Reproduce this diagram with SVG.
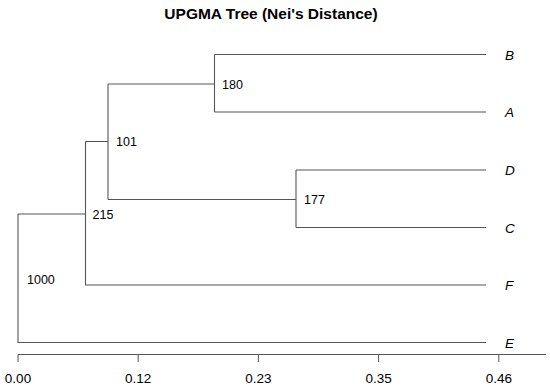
<svg xmlns="http://www.w3.org/2000/svg" width="550" height="389" viewBox="0 0 550 389">
<style>
text{font-family:"Liberation Sans",Arial,sans-serif;fill:#000}
.title{font-size:15.5px;font-weight:bold;text-anchor:middle}
.boot{font-size:12.5px}
.leaf{font-size:13.5px;font-style:italic}
.tick{font-size:13.5px;text-anchor:middle}
.br{fill:none;stroke:#555;stroke-width:1.1}
.ax{fill:none;stroke:#555;stroke-width:1}
</style>
<rect width="550" height="389" fill="#fff"/>
<text class="title" x="271" y="18.5">UPGMA Tree (Nei's Distance)</text>
<g id="connectors">
<path class="br" d="M18,214V342.5H486"/>
<path class="br" d="M18,214H85.5"/>
<path class="br" d="M85.5,141.5V285H486"/>
<path class="br" d="M85.5,141.5H108"/>
<path class="br" d="M108,84V199.5"/>
<path class="br" d="M108,84H214.5"/>
<path class="br" d="M214.5,54.5V112"/>
<path class="br" d="M214.5,54.5H486"/>
<path class="br" d="M214.5,112H486"/>
<path class="br" d="M108,199.5H296"/>
<path class="br" d="M296,170V227.5"/>
<path class="br" d="M296,170H486"/>
<path class="br" d="M296,227.5H486"/>
</g>
<g id="node-180"><text class="boot" x="222" y="88.5">180</text></g>
<g id="node-101"><text class="boot" x="116" y="146">101</text></g>
<g id="node-177"><text class="boot" x="304" y="204">177</text></g>
<g id="node-215"><text class="boot" x="92.5" y="218.5">215</text></g>
<g id="node-1000"><text class="boot" x="27" y="283.5">1000</text></g>
<g id="leaf-B"><text class="leaf" x="505" y="59.5">B</text></g>
<g id="leaf-A"><text class="leaf" x="505" y="117">A</text></g>
<g id="leaf-D"><text class="leaf" x="505" y="175">D</text></g>
<g id="leaf-C"><text class="leaf" x="505" y="232.5">C</text></g>
<g id="leaf-F"><text class="leaf" x="505" y="290">F</text></g>
<g id="leaf-E"><text class="leaf" x="505" y="347.5">E</text></g>
<g id="axis">
<path class="ax" d="M18,354.5H546M18,354.5V362M138.2,354.5V362M258.4,354.5V362M378.6,354.5V362M498.8,354.5V362"/>
<text class="tick" x="18" y="383">0.00</text>
<text class="tick" x="138.2" y="383">0.12</text>
<text class="tick" x="258.4" y="383">0.23</text>
<text class="tick" x="378.6" y="383">0.35</text>
<text class="tick" x="498.8" y="383">0.46</text>
</g>
</svg>
